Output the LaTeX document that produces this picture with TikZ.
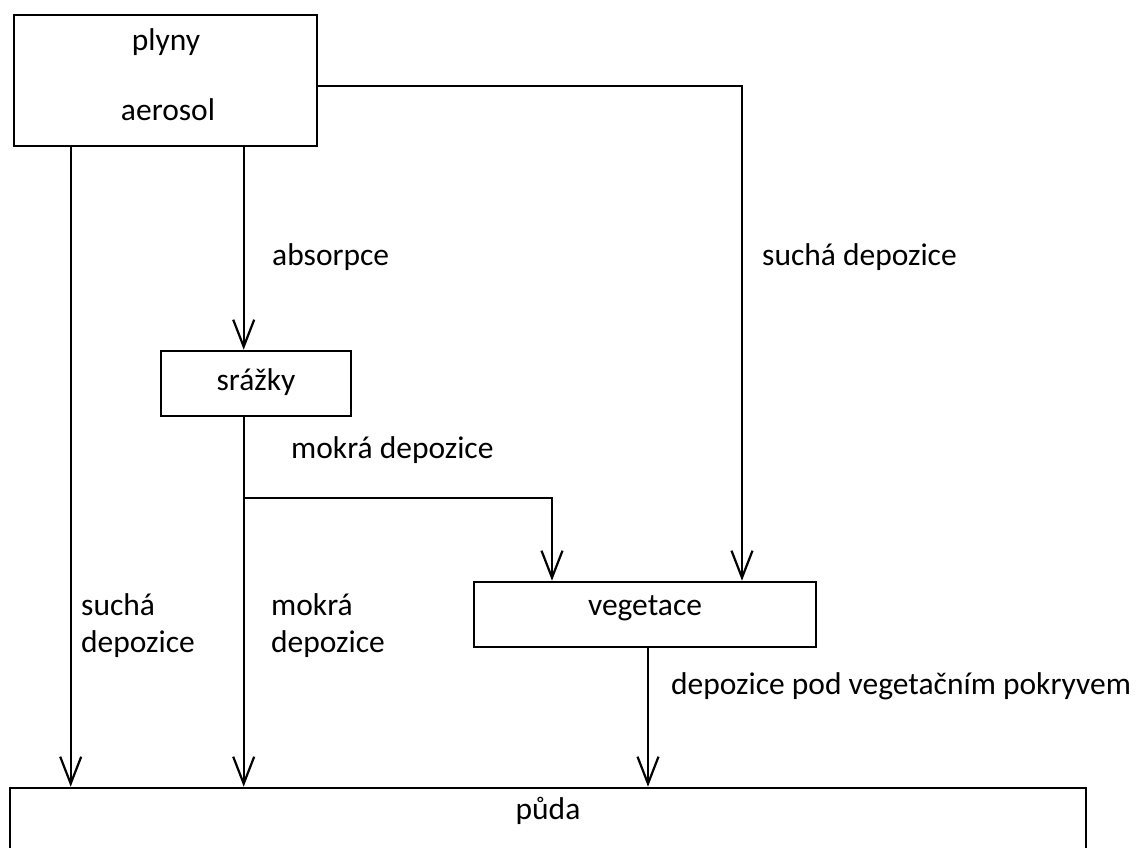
\documentclass[tikz,border=0pt]{standalone}
\usepackage{fontspec}
\setmainfont{Carlito}
\usetikzlibrary{arrows.meta}
\begin{document}
\begin{tikzpicture}[x=1pt,y=-1pt,
  box/.style={draw, line width=2.6pt, inner sep=0pt},
  conn/.style={line width=2.2pt},
  arr/.style={conn, -{Straight Barb[length=27pt,width=21pt,line width=2.2pt]}},
  txt/.style={font=\fontsize{31.5}{37}\selectfont, inner sep=0pt},
  lbl/.style={txt, anchor=west, align=left}
]
\useasboundingbox (0,0) rectangle (1139,847);
\clip (0,0) rectangle (1139,847);
% boxes
\node[box, minimum width=303pt, minimum height=131pt] (src) at (165.5,80.5) {};
\node[txt] (plyny) at (166,42) {plyny};
\node[txt] (aerosol) at (168,110) {aerosol};
\node[box, minimum width=190pt, minimum height=65pt] (srazky) at (256,383.5) {};
\node[txt] (srazkyt) at (256,382) {srážky};
\node[box, minimum width=342pt, minimum height=65pt] (veg) at (645,614.5) {};
\node[txt] (vegt) at (645,608) {vegetace};
\node[box, minimum width=1076pt, minimum height=120pt] (puda) at (548,848) {};
\node[txt] (pudat) at (548,811) {půda};
% labels
\node[lbl] (l1) at (272,257) {absorpce};
\node[lbl] (l2) at (762,257) {suchá depozice};
\node[lbl] (l3) at (291,450) {mokrá depozice};
\node[lbl] (l4) at (81,626) {suchá\\depozice};
\node[lbl] (l5) at (271,626) {mokrá\\depozice};
\node[lbl] (l6) at (671,686) {depozice pod vegetačním pokryvem};
% connectors
\coordinate (a1) at ([xshift=58pt]src.south west);
\coordinate (a2) at ([xshift=231pt]src.south west);
\draw[arr] (a1) -- (a1 |- puda.north);
\draw[arr] (a2) -- (a2 |- srazky.north);
\coordinate (c1) at (742,86);
\draw[arr] (src.east |- c1) -- (c1) -- (c1 |- veg.north);
\draw[arr] (a2 |- srazky.south) -- (a2 |- puda.north);
\coordinate (br) at (245,498);
\coordinate (c2) at (552,498);
\draw[arr] (br) -- (c2) -- (c2 |- veg.north);
\coordinate (d1) at ([xshift=3pt]veg.south);
\draw[arr] (d1) -- (d1 |- puda.north);
\end{tikzpicture}
\end{document}
